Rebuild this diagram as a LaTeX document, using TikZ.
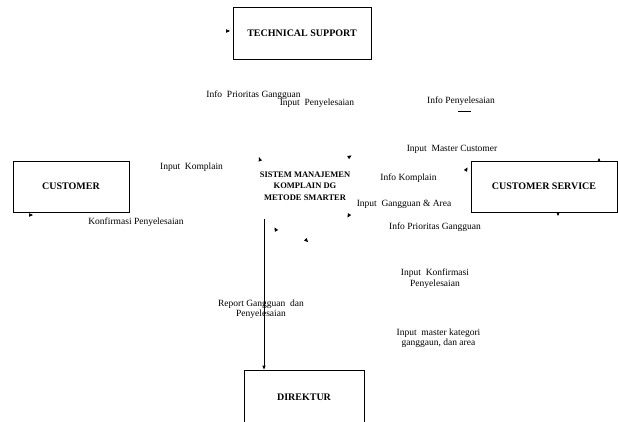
\documentclass[tikz,border=0pt]{standalone}
\usepackage{fontspec}
\setmainfont{Liberation Serif}
\usetikzlibrary{arrows.meta}
\begin{document}
\begin{tikzpicture}[x=1pt,y=1pt,
  entity/.style={draw, line width=0.9pt, font=\bfseries\fontsize{10}{12}\selectfont, inner sep=0pt, align=center},
  lbl/.style={font=\fontsize{9.5}{10.5}\selectfont, align=center, inner sep=0pt},
  tipmark/.style={line width=0.5pt, -{Triangle[length=4pt,width=3.4pt]}},
  flow/.style={line width=0.9pt, -{Triangle[length=4pt,width=3.2pt]}}]
\useasboundingbox (0,0) rectangle (618,421);
% entities
\node[entity, minimum width=138pt, minimum height=52pt] (ts) at (302,388) {TECHNICAL SUPPORT};
\node[entity, minimum width=116pt, minimum height=51pt] (cust) at (71,234.5) {CUSTOMER};
\node[entity, minimum width=146pt, minimum height=51pt] (cs) at (544,234.5) {CUSTOMER SERVICE};
\node[entity, minimum width=120pt, minimum height=70pt] (dir) at (304,16) {};
\node[font=\bfseries\fontsize{10}{12}\selectfont, inner sep=0pt] (dirt) at (304,24) {DIREKTUR};
% process
\node[font=\bfseries\fontsize{8.5}{11.5}\selectfont, align=center, inner sep=0pt] (sys) at (305,235) {SISTEM MANAJEMEN\\KOMPLAIN DG\\METODE SMARTER};
% labels
\node[lbl] (l1) at (253.5,326) {Info\ \ Prioritas Gangguan};
\node[lbl] (l2) at (317,318) {Input\ \ Penyelesaian};
\node[lbl] (l3) at (461,320) {Info Penyelesaian};
\node[lbl] (l4) at (452,272) {Input\ \ Master Customer};
\node[lbl] (l5) at (408.5,243) {Info Komplain};
\node[lbl] (l6) at (404,217) {Input\ \ Gangguan \& Area};
\node[lbl] (l7) at (435,194) {Info Prioritas Gangguan};
\node[lbl] (l8) at (191.5,254) {Input\ \ Komplain};
\node[lbl] (l9) at (136,199) {Konfirmasi Penyelesaian};
\node[lbl] (l10) at (261,112) {Report Gangguan\ \ dan\\Penyelesaian};
\node[lbl] (l11) at (435,142.5) {Input\ \ Konfirmasi\\Penyelesaian};
\node[lbl] (l12) at (438.5,83) {Input\ \ master kategori\\ganggaun, dan area};
% stray underline
\coordinate (u1) at (458,310);
\coordinate (u2) at (471,310);
\draw[line width=0.8pt] (u1) -- (u2);
% main flow to Direktur
\coordinate (sysb) at (264,202);
\draw[flow] (sysb) -- (dir.north -| sysb);
% isolated arrowheads
\coordinate (m1) at (227,390);
\coordinate (m2) at (30,206);
\coordinate (m3) at (260,261);
\coordinate (m4) at (349,264);
\coordinate (m5) at (349,206);
\coordinate (m6) at (276,191);
\coordinate (m7) at (306,181);
\coordinate (m8) at (599,260);
\coordinate (m9) at (466,251);
\coordinate (m10) at (558,208);
\draw[tipmark] (m1) -- ++(3,0);
\draw[tipmark] (m2) -- ++(3,0);
\draw[tipmark] (m3) -- ++(110:3);
\draw[tipmark] (m4) -- ++(30:3);
\draw[tipmark] (m5) -- ++(-120:3);
\draw[tipmark] (m6) -- ++(120:3);
\draw[tipmark] (m7) -- ++(-45:3);
\draw[tipmark] (m8) -- ++(0,3);
\draw[tipmark] (m9) -- ++(60:3);
\draw[tipmark] (m10) -- ++(0,-3);
\end{tikzpicture}
\end{document}
